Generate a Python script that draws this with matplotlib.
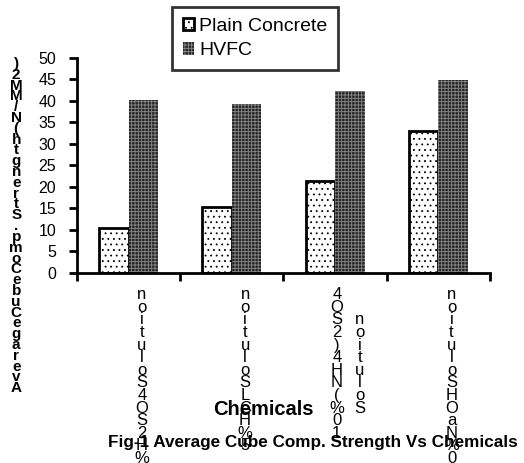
import matplotlib
matplotlib.use("Agg")
import matplotlib.pyplot as plt
from matplotlib.transforms import offset_copy
import numpy as np

plt.rcParams['font.family'] = ['Liberation Sans', 'DejaVu Sans']
plt.rcParams['hatch.linewidth'] = 0.6

# data
chemicals = ["5% H2SO4 Solution", "5% HCL Solution",
             "10% (NH4)2SO4\nSolution", "10% NaOH Solution"]
plain_concrete = [10.4, 15.4, 21.4, 32.9]
hvfc = [40.1, 39.2, 42.4, 44.9]
y_ticks = [0, 5, 10, 15, 20, 25, 30, 35, 40, 45, 50]
y_label = "Average Cube Comp. Strength (N/MM2)"


def stacked(text):
    # the source renders rotated labels as a column of upright glyphs
    return "\n".join(reversed(text.replace(" ", "")))


def main():
    fig = plt.figure(figsize=(5.24, 4.63), dpi=100)
    ax = fig.add_axes([0.147, 0.411, 0.788, 0.464])

    x = np.arange(len(chemicals)) + 0.5
    w = 0.286
    ax.bar(x - w / 2, plain_concrete, w, facecolor="white", edgecolor="black",
           hatch="...", linewidth=2, label="Plain Concrete")
    ax.bar(x + w / 2, hvfc, w, facecolor="#262626", edgecolor="#888888",
           hatch="+++++", linewidth=0, label="HVFC")

    ax.set_xlim(0, len(chemicals))
    ax.set_ylim(0, 50)
    ax.set_yticks(y_ticks)
    ax.set_xticks(np.arange(len(chemicals) + 1))
    ax.set_xticklabels([])
    ax.tick_params(axis="y", length=6, width=2, labelsize=11.5, pad=9)
    ax.tick_params(axis="x", length=6, width=2)
    for side in ["top", "right"]:
        ax.spines[side].set_visible(False)
    for side in ["left", "bottom"]:
        ax.spines[side].set_linewidth(2)

    # category labels, stacked glyph columns
    for xi, name in zip(x, chemicals):
        lines = name.split("\n")
        longest = max(len(l.replace(" ", "")) for l in lines)
        for k, line in enumerate(lines):
            n = len(line.replace(" ", ""))
            pad = (longest - n) // 2
            dx = 9.5 + (k - (len(lines) - 1) / 2) * 16.5
            tr = offset_copy(ax.get_xaxis_transform(), fig=fig, x=dx, y=-10.5,
                             units="points")
            ax.text(xi, 0, "\n" * pad + stacked(line), transform=tr,
                    ha="center", va="top", fontsize=12, linespacing=0.8)

    fig.text(0.031, 0.877, stacked(y_label), ha="center", va="top",
             fontsize=11, fontweight="bold", linespacing=0.71)

    fig.text(0.503, 0.1145, "Chemicals", ha="center", va="center",
             fontsize=14.5, fontweight="bold")
    fig.text(0.598, 0.045, "Fig-1 Average Cube Comp. Strength Vs Chemicals",
             ha="center", va="center", fontsize=12.3, fontweight="bold")

    leg = fig.legend(loc="upper left", bbox_to_anchor=(0.328, 0.985),
                     bbox_transform=fig.transFigure, borderaxespad=0,
                     fancybox=False, edgecolor="black", fontsize=14,
                     handlelength=0.6, handleheight=0.6, handletextpad=0.25,
                     labelspacing=0.4, borderpad=0.55)
    leg.get_frame().set_linewidth(2)

    fig.savefig("out.png", dpi=100)


if __name__ == "__main__":
    main()
